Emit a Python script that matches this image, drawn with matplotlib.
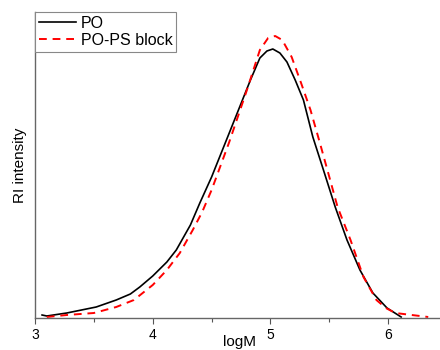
import numpy as np
import matplotlib
matplotlib.use("Agg")
import matplotlib.pyplot as plt

plt.rcParams['font.family'] = ['Liberation Sans', 'DejaVu Sans']

# GPC traces (logM, RI intensity in arbitrary units)
po_logm = [3.06, 3.10, 3.27, 3.52, 3.69, 3.81, 3.89, 4.00, 4.12, 4.20, 4.32, 4.40,
           4.50, 4.66, 4.83, 4.91, 4.97, 5.02, 5.08, 5.14, 5.21, 5.28, 5.36, 5.45,
           5.55, 5.65, 5.76, 5.87, 5.99, 6.11]
po_int = [3, 2, 5, 11, 18, 24, 31, 42, 56, 68, 93, 115,
          141, 188, 238, 260, 267, 269, 265, 256, 238, 218, 181, 148,
          111, 78, 48, 25, 10, 1]

pops_logm = [3.10, 3.27, 3.50, 3.69, 3.84, 4.00, 4.12, 4.23, 4.34, 4.42, 4.50,
             4.65, 4.80, 4.91, 4.98, 5.04, 5.10, 5.18, 5.26, 5.34, 5.42, 5.50,
             5.57, 5.68, 5.79, 5.90, 5.98, 6.06, 6.20, 6.34]
pops_int = [1, 3, 5, 11, 18, 33, 48, 65, 88, 106, 128,
            176, 228, 268, 280, 282, 278, 261, 235, 208, 175, 141,
            111, 78, 41, 18, 10, 5, 3, 1]

fig = plt.figure(figsize=(4.4, 3.5), dpi=100)
ax = fig.add_axes([35 / 440, 32 / 350, 405 / 440, 306 / 350])

ax.plot(po_logm, po_int, color="black", lw=1.2, label="PO")
ax.plot(pops_logm, pops_int, color="red", lw=1.4, ls=(0, (4, 3)), label="PO-PS block")

ax.set_xlim(3, 6.44)
ax.set_ylim(0, 306)
ax.set_xticks([3, 4, 5, 6])
ax.set_xticks([3.5, 4.5, 5.5], minor=True)
ax.set_yticks([])
ax.tick_params(axis="x", which="major", direction="out", length=4, width=0.8,
               color="#555555", labelsize=10, pad=3)
ax.tick_params(axis="x", which="minor", direction="out", length=3, width=0.8,
               color="#555555")
for s in ["top", "right"]:
    ax.spines[s].set_visible(False)
for s in ["left", "bottom"]:
    ax.spines[s].set_color("#666666")
    ax.spines[s].set_linewidth(1.0)

ax.set_xlabel("logM", fontsize=11)
ax.xaxis.set_label_coords(0.505, -0.054)
ax.set_ylabel("RI intensity", fontsize=11, labelpad=6)

leg = ax.legend(loc="upper left", bbox_to_anchor=(0, 1), borderaxespad=0,
                fontsize=11.5, fancybox=False, framealpha=1, edgecolor="#888888",
                handlelength=2.3, handletextpad=0.3, labelspacing=0.1,
                borderpad=0.25)
leg.get_frame().set_linewidth(0.8)

fig.savefig("out.png", dpi=100)
